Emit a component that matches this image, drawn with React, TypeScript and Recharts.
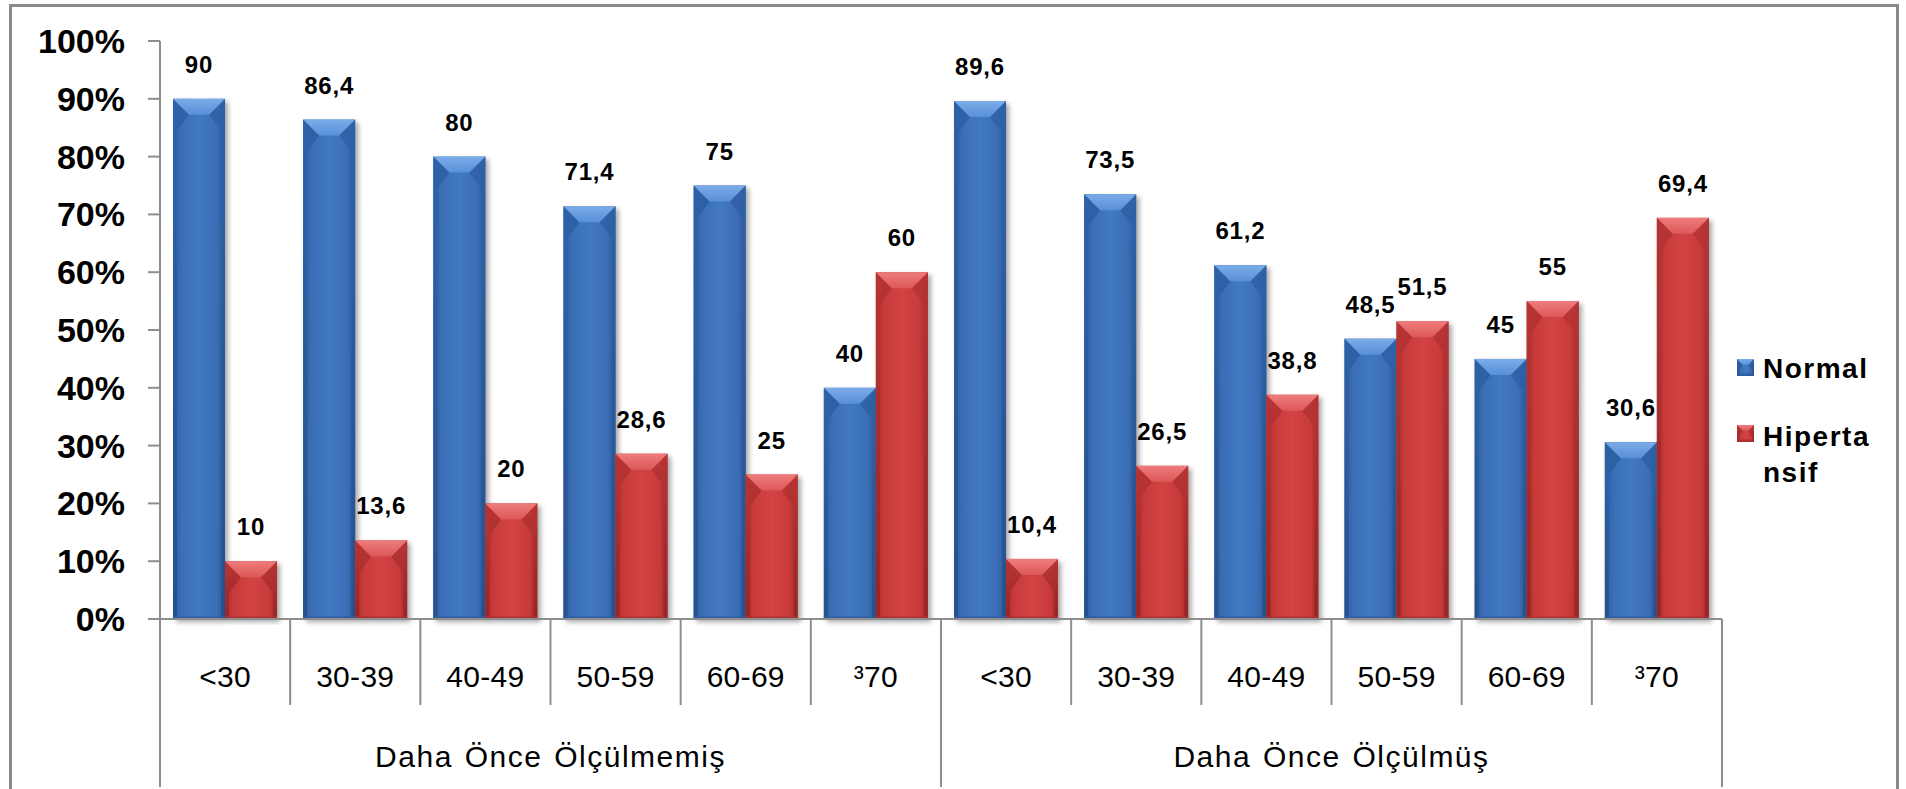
import { BarChart, Bar, XAxis, YAxis, LabelList } from 'recharts'

const ageGroups = ['<30', '30-39', '40-49', '50-59', '60-69', '³70', '<30', '30-39', '40-49', '50-59', '60-69', '³70']
const measuredGroups = ['Daha Önce Ölçülmemiş', 'Daha Önce Ölçülmüş']
const seriesNames = ['Normal', 'Hipertansif']
const normalPct = [90, 86.4, 80, 71.4, 75, 40, 89.6, 73.5, 61.2, 48.5, 45, 30.6]
const hipertansifPct = [10, 13.6, 20, 28.6, 25, 60, 10.4, 26.5, 38.8, 51.5, 55, 69.4]
const yTicks = [0, 10, 20, 30, 40, 50, 60, 70, 80, 90, 100]

const groupSize = ageGroups.length / measuredGroups.length
const rows = ageGroups.map((age, i) => ({
  age,
  group: measuredGroups[Math.floor(i / groupSize)],
  normal: normalPct[i],
  hipertansif: hipertansifPct[i],
}))

const W = 1906
const H = 789
const M = { top: 41, right: 184, bottom: 0, left: 0 }
const Y_AXIS_W = 160
const BAND = (W - M.right - Y_AXIS_W) / ageGroups.length
const FONT = '"Liberation Sans", Arial, sans-serif'
const GRID = '#8e8e8e'
const BLUE = '#3a6db5'
const RED = '#c83a3a'
const TONES = ['b', 'r']

const fmt = (v: any) => String(v).replace('.', ',')
const labelStyle = { fontFamily: FONT, fontSize: 24, fontWeight: 700, letterSpacing: 0.8, fill: '#000' }

function BevelShape({ x, y, w, h, tone }: { x: number; y: number; w: number; h: number; tone: string }) {
  if (!h || h <= 0) return null
  const d = Math.min(16, w / 3, h / 2)
  const s = Math.min(4, w / 8)
  return (
    <g>
      <rect x={x} y={y} width={w} height={h} fill={`url(#${tone}Body)`} />
      <polygon
        points={`${x},${y} ${x + d},${y + d} ${x + s},${y + Math.min(h, 2 * d)} ${x + s},${y + h} ${x},${y + h}`}
        fill={`url(#${tone}Side)`}
      />
      <polygon
        points={`${x + w},${y} ${x + w - d},${y + d} ${x + w - s},${y + Math.min(h, 2 * d)} ${x + w - s},${y + h} ${x + w},${y + h}`}
        fill={`url(#${tone}Side)`}
        opacity={0.9}
      />
      <polygon points={`${x},${y} ${x + w},${y} ${x + w - d},${y + d} ${x + d},${y + d}`} fill={`url(#${tone}Top)`} />
      <rect x={x} y={y + h - 3} width={w} height={3} fill={`url(#${tone}Side)`} opacity={0.7} />
    </g>
  )
}

function Gradients() {
  return (
    <defs>
      <filter id="barShadow" x="-20%" y="-5%" width="150%" height="115%">
        <feDropShadow dx={3} dy={3} stdDeviation={2.5} floodColor="#000" floodOpacity={0.35} />
      </filter>
      <linearGradient id="bBody" x1="0" y1="0" x2="1" y2="0">
        <stop offset="0" stopColor="#2c5a9c" />
        <stop offset="0.15" stopColor="#3a6db5" />
        <stop offset="0.5" stopColor="#4279c2" />
        <stop offset="0.85" stopColor="#3a6db5" />
        <stop offset="1" stopColor="#2a5594" />
      </linearGradient>
      <linearGradient id="bSide" x1="0" y1="0" x2="0" y2="1">
        <stop offset="0" stopColor="#2f62a8" />
        <stop offset="1" stopColor="#27518d" />
      </linearGradient>
      <linearGradient id="bTop" x1="0" y1="0" x2="0" y2="1">
        <stop offset="0" stopColor="#7cace8" />
        <stop offset="1" stopColor="#5790d8" />
      </linearGradient>
      <linearGradient id="rBody" x1="0" y1="0" x2="1" y2="0">
        <stop offset="0" stopColor="#a42c2c" />
        <stop offset="0.15" stopColor="#c83a3a" />
        <stop offset="0.5" stopColor="#d34444" />
        <stop offset="0.85" stopColor="#c83a3a" />
        <stop offset="1" stopColor="#9c2626" />
      </linearGradient>
      <linearGradient id="rSide" x1="0" y1="0" x2="0" y2="1">
        <stop offset="0" stopColor="#b83434" />
        <stop offset="1" stopColor="#962626" />
      </linearGradient>
      <linearGradient id="rTop" x1="0" y1="0" x2="0" y2="1">
        <stop offset="0" stopColor="#ee7c7c" />
        <stop offset="1" stopColor="#dc5858" />
      </linearGradient>
    </defs>
  )
}

function BarShape(props: any) {
  const { x, y, width, height, fill } = props
  return (
    <g filter="url(#barShadow)">
      <BevelShape x={x} y={y} w={width} h={height} tone={fill === BLUE ? 'b' : 'r'} />
    </g>
  )
}

function AgeTick(props: any) {
  const { x, y, payload } = props
  const i = payload.index
  const half = BAND / 2
  const last = (i + 1) % groupSize === 0
  const textStyle = { fontFamily: FONT, fontSize: 30, letterSpacing: 0.3, fill: '#000' }
  return (
    <g>
      {i === 0 && <line x1={x - half} x2={x - half} y1={y} y2={y + 168} stroke={GRID} strokeWidth={2} />}
      <line x1={x + half} x2={x + half} y1={y} y2={y + (last ? 168 : 86)} stroke={GRID} strokeWidth={2} />
      <text x={x} y={y + 68} textAnchor="middle" style={textStyle}>
        {ageGroups[i]}
      </text>
      {i % groupSize === groupSize / 2 - 1 && (
        <text x={x + half} y={y + 148} textAnchor="middle" style={{ ...textStyle, letterSpacing: 1.5, wordSpacing: 2 }}>
          {measuredGroups[Math.floor(i / groupSize)]}
        </text>
      )}
    </g>
  )
}

function LegendBox() {
  return (
    <div
      style={{
        position: 'absolute',
        left: 1737,
        top: 351,
        width: 160,
        fontFamily: FONT,
        fontWeight: 700,
        fontSize: 28,
        letterSpacing: 1.5,
        lineHeight: '36px',
        color: '#000',
      }}
    >
      {seriesNames.map((name, k) => (
        <div key={name} style={{ display: 'flex', alignItems: 'flex-start', marginTop: k === 0 ? 0 : 32 }}>
          <svg width={19} height={19} style={{ marginTop: k === 0 ? 8 : 6, flex: 'none' }}>
            <BevelShape x={0} y={0} w={17} h={17} tone={TONES[k]} />
          </svg>
          <span style={{ marginLeft: 7, maxWidth: 118, wordBreak: 'break-all' }}>{name}</span>
        </div>
      ))}
    </div>
  )
}

export default function App() {
  return (
    <div style={{ position: 'absolute', left: 0, top: 0, width: W, height: H, background: '#fff' }}>
      <div
        style={{
          position: 'absolute',
          left: 9,
          top: 4,
          width: 1890 - 6,
          height: 785 - 3,
          border: '3px solid #8a8a8a',
          borderBottom: 'none',
        }}
      />
      <BarChart width={W} height={H} data={rows} margin={M} barCategoryGap="10%" barGap={0}>
        <Gradients />
        <XAxis
          dataKey="age"
          interval={0}
          height={170}
          tickSize={0}
          tickMargin={0}
          tickLine={false}
          axisLine={{ stroke: GRID, strokeWidth: 2 }}
          tick={<AgeTick />}
        />
        <YAxis
          width={Y_AXIS_W}
          domain={[0, 100]}
          ticks={yTicks}
          interval={0}
          tickFormatter={(v: number) => `${v}%`}
          tickSize={12}
          tickMargin={23}
          axisLine={{ stroke: GRID, strokeWidth: 2 }}
          tickLine={{ stroke: GRID, strokeWidth: 2 }}
          tick={{ fontFamily: FONT, fontSize: 34, fontWeight: 700, fill: '#000' }}
        />
        <Bar dataKey="normal" name={seriesNames[0]} fill={BLUE} shape={<BarShape />} isAnimationActive={false}>
          <LabelList dataKey="normal" position="top" offset={26} formatter={fmt} style={labelStyle} />
        </Bar>
        <Bar dataKey="hipertansif" name={seriesNames[1]} fill={RED} shape={<BarShape />} isAnimationActive={false}>
          <LabelList dataKey="hipertansif" position="top" offset={26} formatter={fmt} style={labelStyle} />
        </Bar>
      </BarChart>
      <LegendBox />
    </div>
  )
}
